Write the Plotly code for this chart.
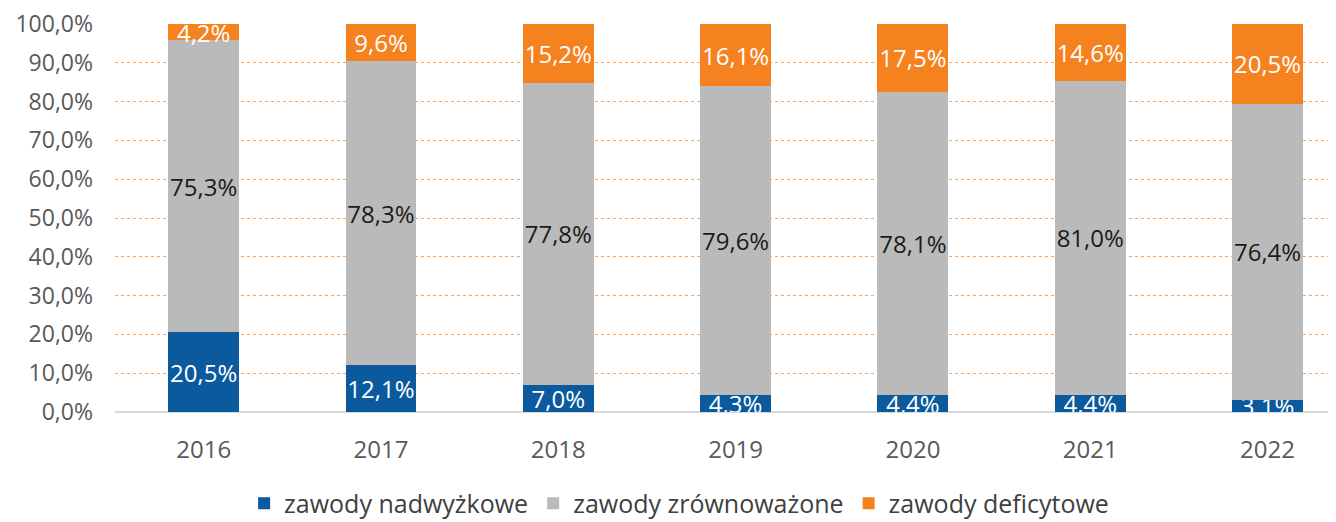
import plotly.graph_objects as go

# Données (parts en %)
annees       = ["2016", "2017", "2018", "2019", "2020", "2021", "2022"]
nadwyzkowe   = [20.5, 12.1, 7.0, 4.3, 4.4, 4.4, 3.1]
zrownowazone = [75.3, 78.3, 77.8, 79.6, 78.1, 81.0, 76.4]
deficytowe   = [4.2, 9.6, 15.2, 16.1, 17.5, 14.6, 20.5]

COULEURS = {
    "nadwyzkowe"  : "#0B5A9E",
    "zrownowazone": "#BABABA",
    "deficytowe"  : "#F5821F",
}

FONT = "Open Sans, Lato, sans-serif"
TAILLE = 24

fig = go.Figure()

series = [
    ("zawody nadwyżkowe",   nadwyzkowe,   COULEURS["nadwyzkowe"],   "white"),
    ("zawody zrównoważone", zrownowazone, COULEURS["zrownowazone"], "#1a1a1a"),
    ("zawody deficytowe",   deficytowe,   COULEURS["deficytowe"],   "white"),
]

for nom, valeurs, couleur, couleur_txt in series:
    fig.add_trace(go.Bar(
        x                 = annees,
        y                 = valeurs,
        name              = nom,
        marker_color      = couleur,
        marker_line_width = 0,
        texttemplate      = "%{y:.1f}%",
        textposition      = "inside",
        insidetextanchor  = "middle",
        constraintext     = "none",
        textangle         = 0,
        textfont          = dict(family=FONT, size=TAILLE, color=couleur_txt),
    ))

# la page ajoute ~8 px de marge autour de la figure : marges compensées
fig.update_layout(
    barmode       = "stack",
    bargap        = 0.6,
    width         = 1336,
    height        = 522,
    separators    = ", ",
    margin        = dict(l=107, r=8, t=16, b=118, autoexpand=False),
    font          = dict(family=FONT, size=TAILLE, color="#595959"),
    paper_bgcolor = "white",
    plot_bgcolor  = "white",
    xaxis = dict(
        range             = [-0.5, 6.386],
        automargin        = False,
        showgrid          = False,
        ticks             = "",
        tickfont          = dict(size=TAILLE, color="#595959"),
        showline          = False,
        ticklabelstandoff = 21,
        ticklabeloverflow = "allow",
    ),
    yaxis = dict(
        range             = [0, 100],
        automargin        = False,
        dtick             = 10,
        tickformat        = ".1f",
        ticksuffix        = "%",
        showgrid          = True,
        gridcolor         = "#F7A560",
        griddash          = "dot",
        gridwidth         = 1,
        zeroline          = True,
        zerolinecolor     = "#D9D9D9",
        zerolinewidth     = 2,
        tickfont          = dict(size=23, color="#595959"),
        ticklabelstandoff = 21,
        ticklabeloverflow = "allow",
    ),
    showlegend = True,
    legend = dict(
        orientation = "h",
        traceorder  = "normal",
        yanchor     = "middle",
        y           = -0.236,
        xanchor     = "center",
        x           = 0.462,
        font        = dict(size=25, color="#404040"),
        itemwidth   = 30,
    ),
)

fig.write_html("out.html")
